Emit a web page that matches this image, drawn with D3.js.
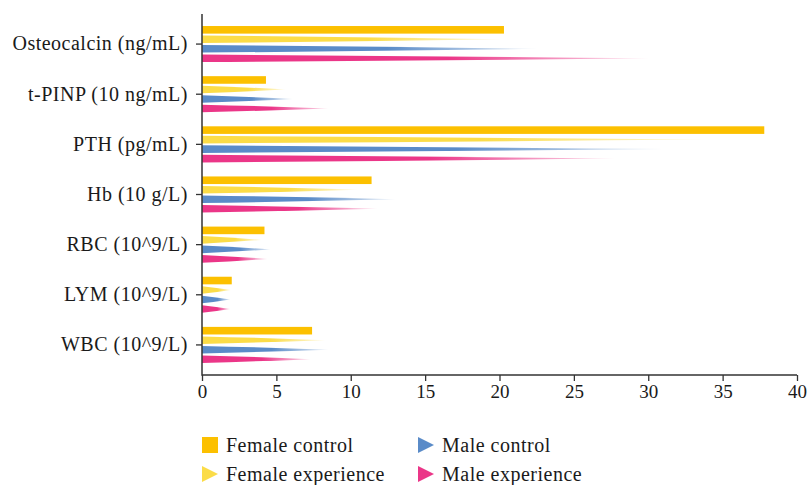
<!DOCTYPE html>
<html>
<head>
<meta charset="utf-8">
<script src="https://cdn.jsdelivr.net/npm/d3@7"></script>
<style>
  body { margin: 0; background: #fff; }
  text { font-family: "Liberation Serif", "DejaVu Serif", serif; fill: #1a1a1a; }
</style>
</head>
<body>
<svg id="chart" width="809" height="485"></svg>
<script>
// categories, top to bottom
var categories = ["Osteocalcin (ng/mL)", "t-PINP (10 ng/mL)", "PTH (pg/mL)", "Hb (10 g/L)",
                  "RBC (10^9/L)", "LYM (10^9/L)", "WBC (10^9/L)"];
var seriesNames = ["Female control", "Female experience", "Male control", "Male experience"];
var femaleControl    = [20.3, 4.3, 37.8, 11.4, 4.2, 2.0, 7.4];
var femaleExperience = [20.2, 5.6, 33.9, 10.5, 4.0, 1.95, 8.3];
var maleControl      = [22.6, 6.1, 31.1, 13.0, 4.6, 1.9, 8.5];
var maleExperience   = [30.1, 8.5, 27.8, 11.8, 4.4, 1.9, 7.3];
var xTicks = [0, 5, 10, 15, 20, 25, 30, 35, 40];

var colors = ["#fcc000", "#fbdc48", "#5a8bc8", "#eb3688"];
var seriesValues = [femaleControl, femaleExperience, maleControl, maleExperience];

var svg = d3.select("#chart");

// fading gradients for the wedge tips
var defs = svg.append("defs");
colors.forEach(function (c, i) {
  var gr = defs.append("linearGradient").attr("id", "fade" + i)
    .attr("x1", 0).attr("x2", 1).attr("y1", 0).attr("y2", 0);
  gr.append("stop").attr("offset", 0).attr("stop-color", c).attr("stop-opacity", 1);
  gr.append("stop").attr("offset", 0.55).attr("stop-color", c).attr("stop-opacity", 1);
  gr.append("stop").attr("offset", 1).attr("stop-color", c).attr("stop-opacity", 0.15);
});

var x = d3.scaleLinear().domain([0, 40]).range([202, 797]);
var y = d3.scaleBand().domain(categories).range([19, 370]).paddingInner(0.28).paddingOuter(0.14);
var ySub = d3.scaleBand().domain(seriesNames).range([0, y.bandwidth()]).paddingInner(0.2);

// bars
seriesNames.forEach(function (s, si) {
  var g = svg.append("g");
  var rows = categories.map(function (c, i) { return [c, seriesValues[si][i]]; });
  if (si === 0) {
    g.selectAll("rect")
      .data(rows)
      .enter()
      .append("rect")
      .attr("x", x(0))
      .attr("y", function (d) { return y(d[0]) + ySub(s); })
      .attr("width", function (d) { return x(d[1]) - x(0); })
      .attr("height", ySub.bandwidth())
      .attr("fill", colors[si]);
  } else {
    g.selectAll("path")
      .data(rows)
      .enter()
      .append("path")
      .attr("d", function (d) {
        var y0 = y(d[0]) + ySub(s), h = ySub.bandwidth(), L = x(d[1]) - x(0);
        return "M" + x(0) + "," + y0 +
               "Q" + (x(0) + L * 0.5) + "," + (y0 + h * 0.2) + " " + x(d[1]) + "," + (y0 + h / 2) +
               "Q" + (x(0) + L * 0.5) + "," + (y0 + h * 0.8) + " " + x(0) + "," + (y0 + h) + "Z";
      })
      .attr("fill", "url(#fade" + si + ")");
  }
});

// axes
var xAxis = svg.append("g")
  .attr("transform", "translate(0,375)")
  .call(d3.axisBottom(x).tickValues(xTicks).tickSize(6).tickSizeOuter(0));
xAxis.select(".domain").remove();
xAxis.append("line").attr("x1", 202).attr("x2", 797).attr("stroke", "#333").attr("stroke-width", 1.5);
xAxis.selectAll(".tick line").attr("stroke", "#333").attr("stroke-width", 1.3);
xAxis.selectAll(".tick text").attr("y", 10).attr("dy", "0.71em")
  .style("font-size", "19px").style("font-family", "Liberation Serif, serif").attr("fill", "#1a1a1a");

var yAxis = svg.append("g")
  .attr("transform", "translate(202,0)")
  .call(d3.axisLeft(y).tickSize(6).tickSizeOuter(0));
yAxis.select(".domain").remove();
yAxis.append("line").attr("y1", 14).attr("y2", 375.7).attr("stroke", "#333").attr("stroke-width", 1.5);
yAxis.selectAll(".tick line").attr("stroke", "#333").attr("stroke-width", 1.3);
yAxis.selectAll(".tick text").attr("x", -14)
  .style("font-size", "20px").style("letter-spacing", "0.5px")
  .style("font-family", "Liberation Serif, serif").attr("fill", "#1a1a1a");

// legend
var legendPos = [[202, 445], [202, 474], [418, 445], [418, 474]];
seriesNames.forEach(function (s, i) {
  var p = legendPos[i];
  var lg = svg.append("g").attr("transform", "translate(" + p[0] + "," + p[1] + ")");
  if (i === 0) {
    lg.append("rect").attr("x", 0).attr("y", -8).attr("width", 16).attr("height", 16).attr("fill", colors[i]);
  } else {
    lg.append("path").attr("d", "M0,-8L16,0L0,8Z").attr("fill", colors[i]);
  }
  lg.append("text").attr("x", 24).attr("y", 0).attr("dy", "0.35em")
    .style("font-size", "20px").style("letter-spacing", "0.5px").text(s);
});
</script>
</body>
</html>
